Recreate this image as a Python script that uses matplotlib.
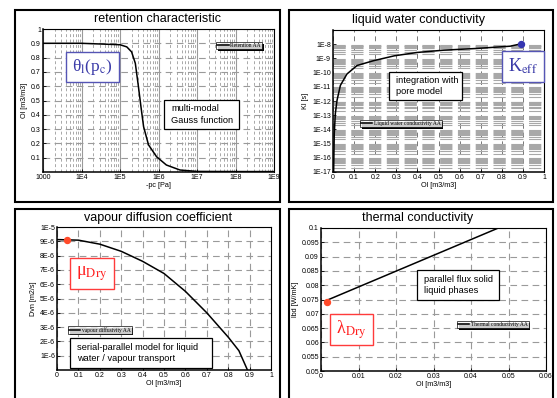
import matplotlib
matplotlib.use("Agg")
import matplotlib.pyplot as plt
from matplotlib.patches import Rectangle
from matplotlib.transforms import IdentityTransform
from matplotlib.ticker import FixedLocator, FixedFormatter, NullFormatter
import numpy as np

plt.rcParams['font.family'] = ['Liberation Sans', 'DejaVu Sans']
plt.rcParams['mathtext.fontset'] = 'stix'

# ---------------- data ----------------
ret_pc = [1e3, 1e4, 1e5, 1.5e5, 2.0e5, 2.5e5, 3.0e5, 3.5e5, 4.1e5, 5.5e5, 8.9e5, 1.6e6, 3.6e6, 1e7, 1e8, 1e9]
ret_theta = [0.9, 0.9, 0.89, 0.875, 0.84, 0.76, 0.60, 0.457, 0.317, 0.19, 0.107, 0.049, 0.014, 0.004, 0.003, 0.003]

kl_theta = [0.003, 0.006, 0.011, 0.019, 0.035, 0.066, 0.114, 0.19, 0.29, 0.40, 0.525, 0.68, 0.84, 0.896]
kl_log = [-17.0, -14.3, -12.9, -11.96, -10.9, -10.1, -9.5, -9.17, -8.82, -8.58, -8.42, -8.3, -8.14, -7.96]
kl_values = [10.0 ** v for v in kl_log]
kl_dot = (0.893, 1.12e-8)

dv_theta = [0.0, 0.1, 0.2, 0.3, 0.4, 0.5, 0.6, 0.7, 0.8, 0.85, 0.89]
dv_values = [9.12e-6, 9.08e-6, 8.8e-6, 8.3e-6, 7.6e-6, 6.75e-6, 5.5e-6, 4.0e-6, 2.3e-6, 1.35e-6, 0.0]
dv_dot = (0.045, 9.07e-6)

lb_theta = [0.0017, 0.0473]
lb_values = [0.0748, 0.1]
lb_dot = (0.0015, 0.0740)

ret_xticks = [1e3, 1e4, 1e5, 1e6, 1e7, 1e8, 1e9]
ret_xlabels = ['1000', '1E4', '1E5', '1E6', '1E7', '1E8', '1E9']
ret_yticks = [0.1, 0.2, 0.3, 0.4, 0.5, 0.6, 0.7, 0.8, 0.9, 1.0]
ret_ylabels = ['0.1', '0.2', '0.3', '0.4', '0.5', '0.6', '0.7', '0.8', '0.9', '1']

kl_yticks = [10.0 ** e for e in range(-17, -7)]
kl_ylabels = ['1E%d' % e for e in range(-17, -7)]
theta_ticks = [0, 0.1, 0.2, 0.3, 0.4, 0.5, 0.6, 0.7, 0.8, 0.9, 1.0]
theta_labels = ['0', '0.1', '0.2', '0.3', '0.4', '0.5', '0.6', '0.7', '0.8', '0.9', '1']

dv_yticks = [i * 1e-6 for i in range(1, 11)]
dv_ylabels = ['1E-6', '2E-6', '3E-6', '4E-6', '5E-6', '6E-6', '7E-6', '8E-6', '9E-6', '1E-5']

lb_xticks = [0, 0.01, 0.02, 0.03, 0.04, 0.05, 0.06]
lb_xlabels = ['0', '0.01', '0.02', '0.03', '0.04', '0.05', '0.06']
lb_yticks = [0.05, 0.055, 0.06, 0.065, 0.07, 0.075, 0.08, 0.085, 0.09, 0.095, 0.1]
lb_ylabels = ['0.05', '0.055', '0.06', '0.065', '0.07', '0.075', '0.08', '0.085', '0.09', '0.095', '0.1']


def log_minor(lo_exp, hi_exp):
    return [m * 10.0 ** e for e in range(lo_exp, hi_exp) for m in range(2, 10)]


# ---------------- layout helpers ----------------
W, H = 557, 398
fig = plt.figure(figsize=(W / 100, H / 100), dpi=100)


def ax_px(l, t, r, b):
    return fig.add_axes([l / W, 1 - b / H, (r - l) / W, (b - t) / H])


def frame_px(l, t, r, b, lw=1.5, ec='black'):
    fig.patches.append(Rectangle((l / W, 1 - b / H), (r - l) / W, (b - t) / H,
                                 transform=fig.transFigure, fill=False, lw=lw, ec=ec, zorder=0))


def box_px(l, t, r, b, text, ec='black', color='black', size=6.7, ha='left', pad=7, lw=0.9, **kw):
    fig.patches.append(Rectangle((l / W, 1 - b / H), (r - l) / W, (b - t) / H,
                                 transform=fig.transFigure, fill=True, fc='white', lw=lw, ec=ec, zorder=5))
    if ha == 'left':
        x = (l + pad) / W
    else:
        x = (l + r) / 2 / W
    fig.text(x, 1 - (t + b) / 2 / H, text, ha=ha, va='center', color=color, fontsize=size,
             zorder=6, linespacing=1.3, **kw)


TICK = 5.0
LAB = 5.2
TITLE = 9.0
GRAY = '#9a9a9a'
LEGFONT = {'family': 'Liberation Serif', 'size': 4.0}
legends = []


def style(ax):
    for s in ax.spines.values():
        s.set_color('black')
        s.set_linewidth(0.8)
    ax.spines['left'].set_linewidth(1.1)
    ax.spines['bottom'].set_linewidth(1.1)
    ax.tick_params(axis='both', which='major', labelsize=TICK, length=2, width=0.6,
                   direction='in', pad=1.5)
    ax.tick_params(axis='both', which='minor', length=0)
    ax.set_axisbelow(True)


def legend(ax, loc, anchor):
    lg = ax.legend(loc=loc, bbox_to_anchor=anchor, borderaxespad=0,
                   handlelength=2.0, handletextpad=0.3, borderpad=0.2, fancybox=False,
                   prop=LEGFONT)
    lg.get_frame().set_edgecolor('black')
    lg.get_frame().set_linewidth(0.6)
    lg.set_zorder(7)
    legends.append((ax, lg))


# panel frames
frame_px(15, 10, 280, 202)
frame_px(289, 10, 553, 202)
frame_px(15, 209, 280, 402)
frame_px(289, 209, 553, 402)

# ---------------- retention characteristic ----------------
ax1 = ax_px(43, 29, 274, 172)
style(ax1)
ax1.plot(ret_pc, ret_theta, color='black', lw=1.1, label='Retention AA')
ax1.set_xscale('log')
ax1.set_xlim(1e3, 1e9)
ax1.set_ylim(0, 1)
ax1.xaxis.set_major_locator(FixedLocator(ret_xticks))
ax1.xaxis.set_major_formatter(FixedFormatter(ret_xlabels))
ax1.xaxis.set_minor_locator(FixedLocator(log_minor(3, 9)))
ax1.xaxis.set_minor_formatter(NullFormatter())
ax1.yaxis.set_major_locator(FixedLocator(ret_yticks))
ax1.yaxis.set_major_formatter(FixedFormatter(ret_ylabels))
ax1.grid(True, axis='x', which='major', color=GRAY, lw=0.8, ls='-')
ax1.grid(True, axis='x', which='minor', color=GRAY, lw=0.6, ls=(0, (3.5, 3)))
ax1.grid(True, axis='y', which='major', color=GRAY, lw=0.8, ls=(0, (6, 4)))
ax1.set_xlabel('-pc [Pa]', fontsize=LAB, labelpad=1)
ax1.set_ylabel('Ol [m3/m3]', fontsize=LAB, labelpad=2)
fig.text(158 / W, 1 - 19.5 / H, 'retention characteristic', ha='center', va='center', fontsize=TITLE)
legend(ax1, 'upper right', (0.948, 0.909))
box_px(66, 52, 119, 82, r'θ$_{\mathrm{l}}$(p$_{\mathrm{c}}$)', ec='#5555b5',
       color='#3a3aa8', size=12.5, ha='center', lw=1.0, family='Liberation Serif')
box_px(164, 100, 239, 129, 'multi-modal\nGauss function')

# ---------------- liquid water conductivity ----------------
ax2 = ax_px(333, 30, 544, 172)
style(ax2)
ax2.plot(kl_theta, kl_values, color='black', lw=1.1, label='Liquid water conductivity AA')
ax2.plot([kl_dot[0]], [kl_dot[1]], 'o', color='#3535b0', ms=4.3, zorder=4)
ax2.set_yscale('log')
ax2.set_xlim(0, 1)
ax2.set_ylim(1e-17, 1e-7)
ax2.yaxis.set_major_locator(FixedLocator(kl_yticks))
ax2.yaxis.set_major_formatter(FixedFormatter(kl_ylabels))
ax2.yaxis.set_minor_locator(FixedLocator(log_minor(-17, -8)))
ax2.yaxis.set_minor_formatter(NullFormatter())
ax2.xaxis.set_major_locator(FixedLocator(theta_ticks))
ax2.xaxis.set_major_formatter(FixedFormatter(theta_labels))
ax2.grid(True, axis='y', which='minor', color='#a8a8a8', lw=0.8, ls=(0, (11, 5)))
ax2.grid(True, axis='x', which='major', color='#777777', lw=0.7, ls=(0, (5, 4)))
ax2.set_xlabel('Ol [m3/m3]', fontsize=LAB, labelpad=1)
ax2.set_ylabel('Kl [s]', fontsize=LAB, labelpad=2)
fig.text(418 / W, 1 - 19.5 / H, 'liquid water conductivity', ha='center', va='center', fontsize=TITLE)
legend(ax2, 'upper left', (0.128, 0.366))
box_px(389, 72, 462, 100, 'integration with\npore model')
box_px(502, 51, 544, 82, r'K$_{\mathrm{eff}}$', ec='#5555b5', color='#3a3aa8',
       size=13, ha='center', lw=1.0, family='Liberation Serif')

# ---------------- vapour diffusion coefficient ----------------
ax3 = ax_px(57, 227, 271, 370)
style(ax3)
ax3.plot(dv_theta, dv_values, color='black', lw=1.1, label='vapour diffusivity AA')
ax3.plot([dv_dot[0]], [dv_dot[1]], 'o', color='#ff4a2a', ms=4.3, zorder=4)
ax3.set_xlim(0, 1)
ax3.set_ylim(0, 1e-5)
ax3.xaxis.set_major_locator(FixedLocator(theta_ticks))
ax3.xaxis.set_major_formatter(FixedFormatter(theta_labels))
ax3.yaxis.set_major_locator(FixedLocator(dv_yticks))
ax3.yaxis.set_major_formatter(FixedFormatter(dv_ylabels))
ax3.grid(True, which='major', color=GRAY, lw=0.8, ls=(0, (6, 4)))
ax3.set_xlabel('Ol [m3/m3]', fontsize=LAB, labelpad=1)
ax3.set_ylabel('Dvn [m2/s]', fontsize=LAB, labelpad=2)
fig.text(158 / W, 1 - 218 / H, 'vapour diffusion coefficient', ha='center', va='center', fontsize=TITLE)
legend(ax3, 'upper left', (0.051, 0.308))
box_px(70, 258, 114, 289, r'μ$_{\mathrm{Dry}}$', ec='#ff3b3b', color='#ff2020',
       size=13, ha='center', lw=1.0, family='Liberation Serif')
box_px(70, 338, 212, 368, 'serial-parallel model for liquid\nwater / vapour transport')

# ---------------- thermal conductivity ----------------
ax4 = ax_px(321, 228, 546, 371)
style(ax4)
ax4.plot(lb_theta, lb_values, color='black', lw=1.1, label='Thermal conductivity AA')
ax4.plot([lb_dot[0]], [lb_dot[1]], 'o', color='#ff4a2a', ms=4.3, zorder=4)
ax4.set_xlim(0, 0.06)
ax4.set_ylim(0.05, 0.1)
ax4.xaxis.set_major_locator(FixedLocator(lb_xticks))
ax4.xaxis.set_major_formatter(FixedFormatter(lb_xlabels))
ax4.yaxis.set_major_locator(FixedLocator(lb_yticks))
ax4.yaxis.set_major_formatter(FixedFormatter(lb_ylabels))
ax4.grid(True, which='major', color=GRAY, lw=0.8, ls=(0, (6, 4)))
ax4.set_xlabel('Ol [m3/m3]', fontsize=LAB, labelpad=1)
ax4.set_ylabel('lbd [W/mK]', fontsize=LAB, labelpad=2)
fig.text(418 / W, 1 - 218 / H, 'thermal conductivity', ha='center', va='center', fontsize=TITLE)
legend(ax4, 'upper left', (0.604, 0.35))
box_px(417, 270, 499, 300, 'parallel flux solid\nliquid phases')
box_px(330, 314, 373, 345, r'λ$_{\mathrm{Dry}}$', ec='#ff3b3b', color='#ff2020',
       size=13, ha='center', lw=1.0, family='Liberation Serif')

# hard black drop shadows behind the small legends
fig.canvas.draw()
renderer = fig.canvas.get_renderer()
for ax, lg in legends:
    bb = lg.get_frame().get_window_extent(renderer)
    ax.add_patch(Rectangle((bb.x0 + 1.6, bb.y0 - 1.6), bb.width, bb.height,
                           transform=IdentityTransform(), fc='black', ec='none',
                           zorder=6.5, clip_on=False))

fig.savefig('out.png', dpi=100)
